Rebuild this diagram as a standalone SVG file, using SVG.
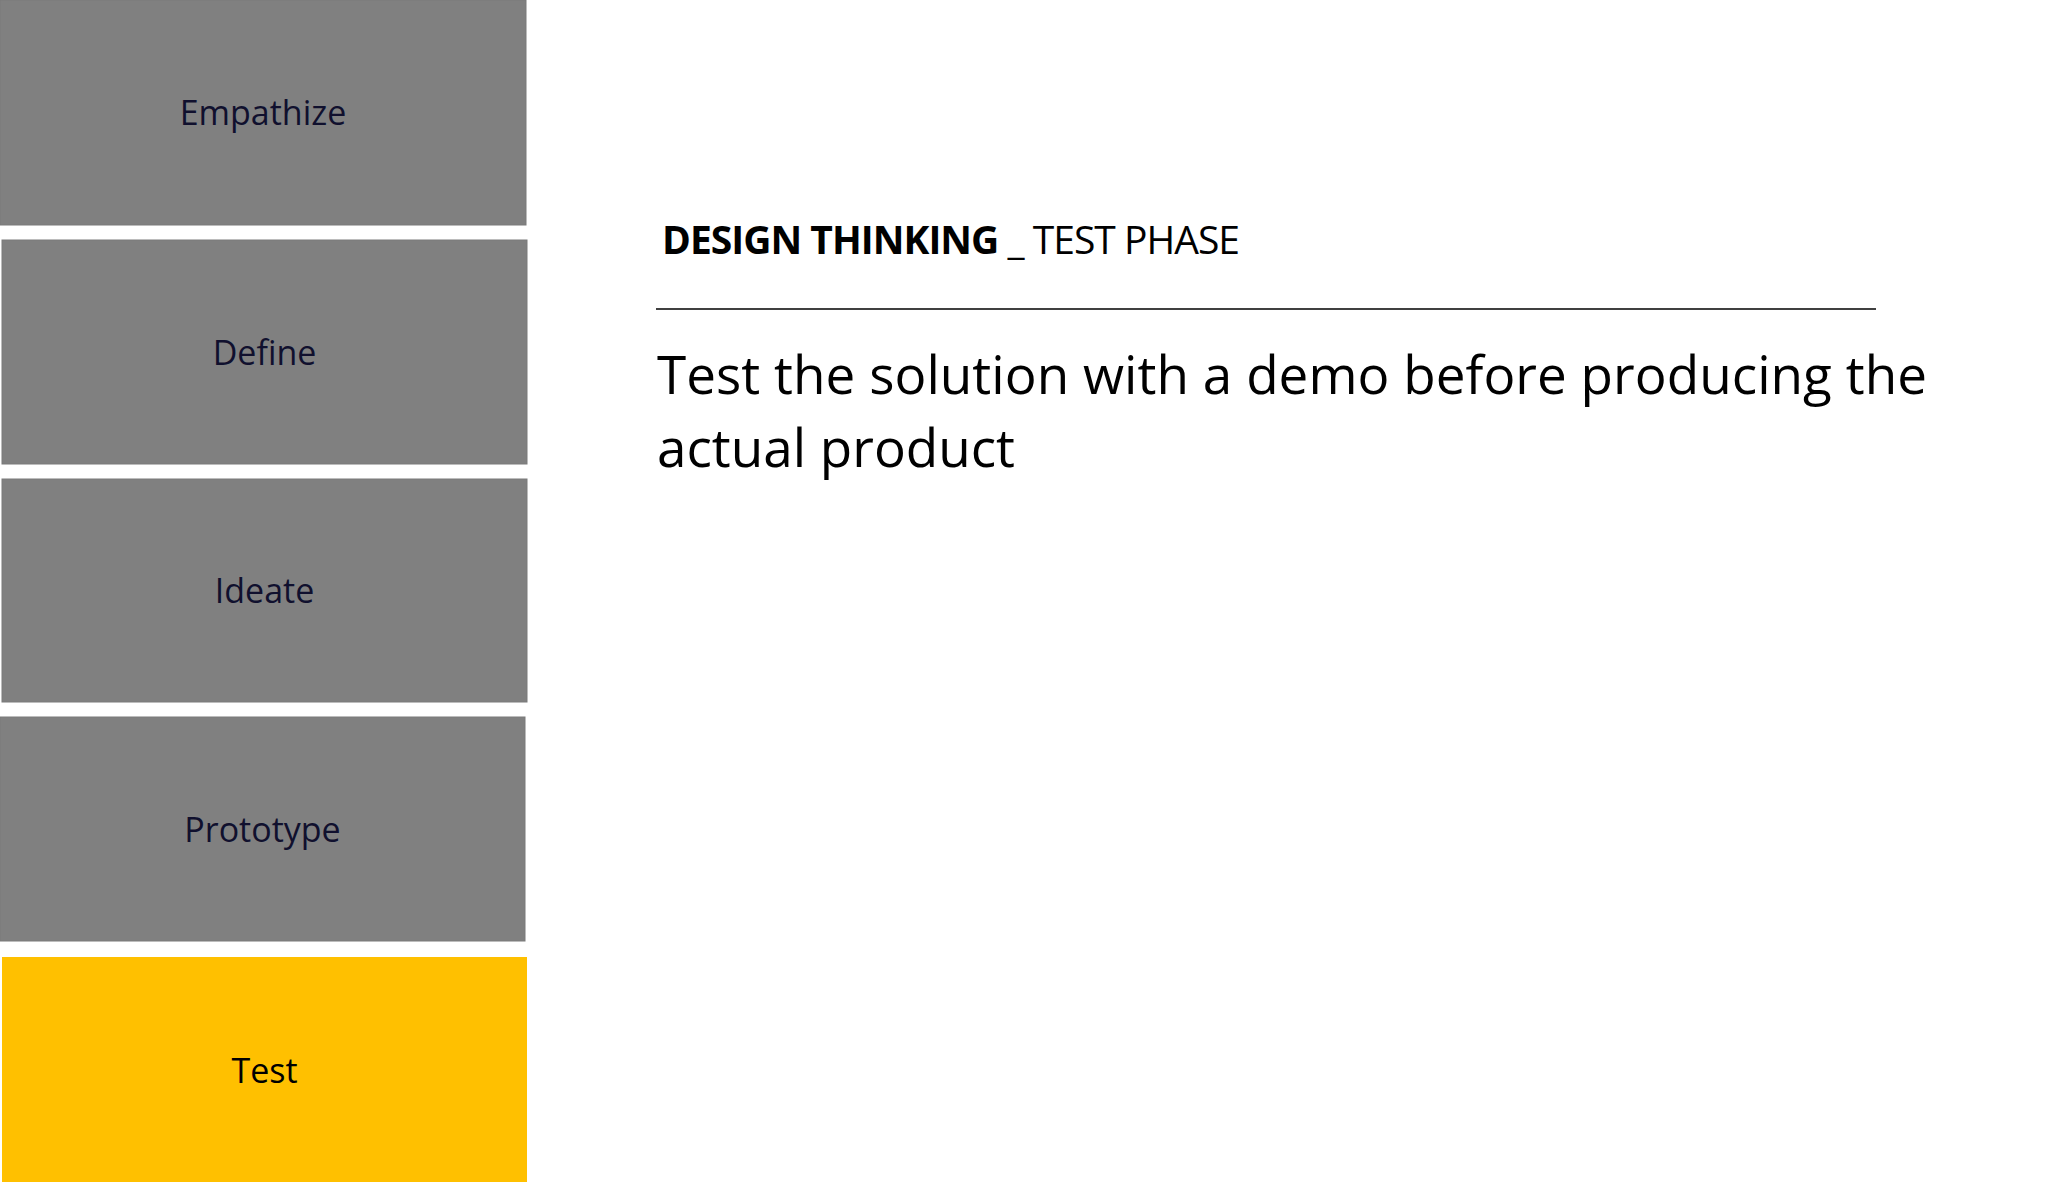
<svg xmlns="http://www.w3.org/2000/svg" width="2048" height="1182" viewBox="0 0 2048 1182">
<style>
.box{fill:#808080;stroke:#7a7a7a;stroke-width:1}
.test{fill:#FFC000}
.lbl{font-family:"Open Sans","Liberation Sans",sans-serif;font-size:34px;fill:#10102e;text-anchor:middle}
.lbl-dark{fill:#000}
.hdr{font-family:"Open Sans","Liberation Sans",sans-serif;font-size:39px;fill:#000}
.body{font-family:"Open Sans","Liberation Sans",sans-serif;font-size:53px;fill:#000}
</style>
<rect width="2048" height="1182" fill="#fff"/>
<g id="empathize"><rect class="box" x="0" y="0" width="526" height="225"/><text class="lbl" x="263" y="125">Empathize</text></g>
<g id="define"><rect class="box" x="2" y="240" width="525" height="224"/><text class="lbl" x="264.5" y="364.5">Define</text></g>
<g id="ideate"><rect class="box" x="2" y="479" width="525" height="223"/><text class="lbl" x="264.5" y="603">Ideate</text></g>
<g id="prototype"><rect class="box" x="0" y="717" width="525" height="224"/><text class="lbl" x="262.5" y="841.5">Prototype</text></g>
<g id="test"><rect class="test" x="2" y="957" width="525" height="225"/><text class="lbl lbl-dark" x="264.5" y="1083">Test</text></g>
<g id="connectors"></g>
<g id="header">
<text class="hdr" x="662" y="254" textLength="578"><tspan font-weight="bold">DESIGN THINKING</tspan> _ TEST PHASE</text>
<line x1="656" y1="309" x2="1876" y2="309" stroke="#404040" stroke-width="2"/>
</g>
<g id="body">
<text class="body" x="657" y="394" textLength="1270">Test the solution with a demo before producing the</text>
<text class="body" x="657" y="467">actual product</text>
</g>
</svg>
